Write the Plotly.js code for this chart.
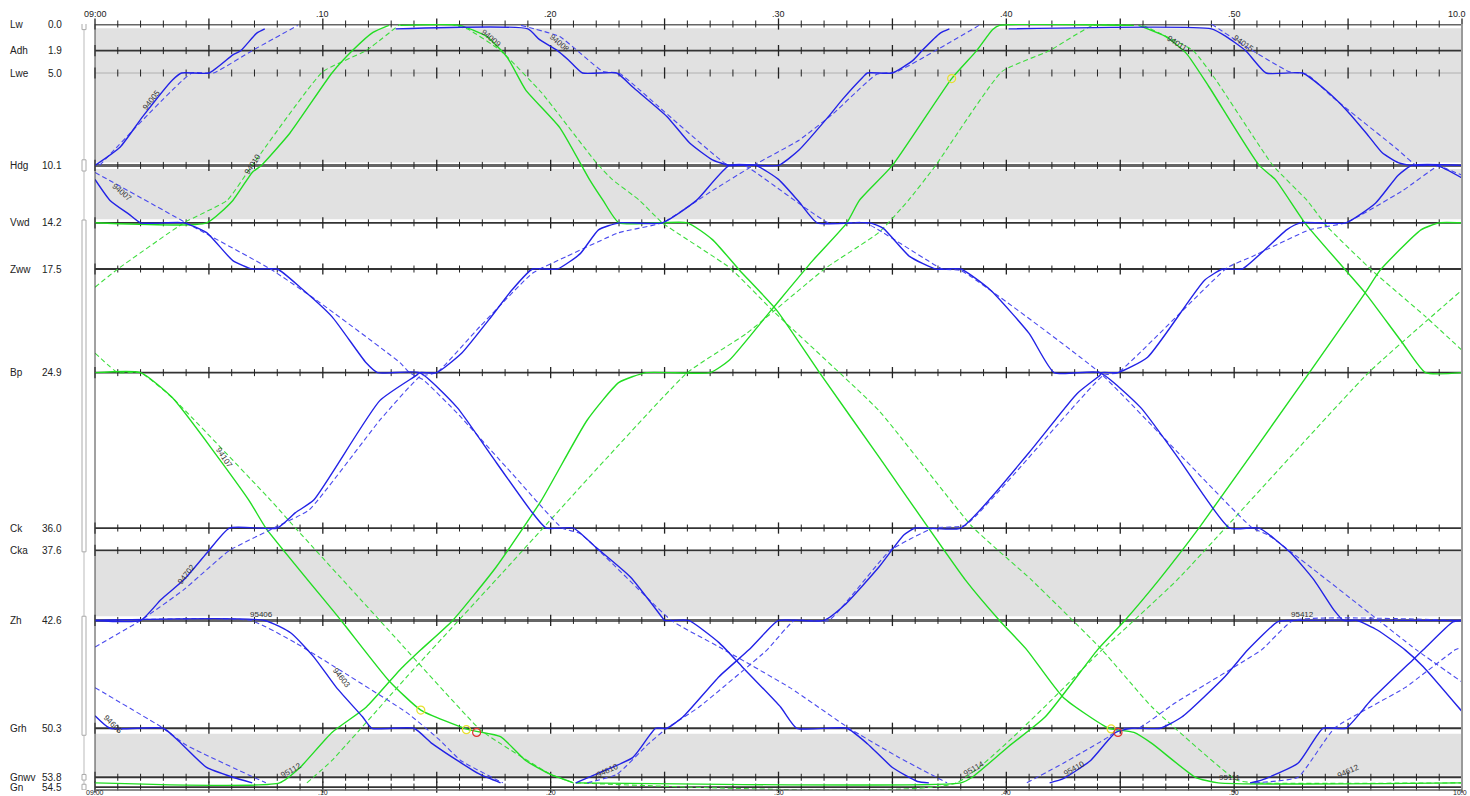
<!DOCTYPE html>
<html><head><meta charset="utf-8">
<script src="https://cdn.plot.ly/plotly-3.0.1.min.js"></script>
<style>html,body{margin:0;padding:0;background:#fff;overflow:hidden}#chart{width:1470px;height:796px}</style>
</head><body><div id="chart"></div>
<script>
// ---------- stations ----------
const stationNames  = ['Lw','Adh','Lwe','Hdg','Vwd','Zww','Bp','Ck','Cka','Zh','Grh','Gnwv','Gn'];
const stationKm     = [0.0, 1.9, 3.5, 10.1, 14.2, 17.5, 24.9, 36.0, 37.6, 42.6, 50.3, 53.8, 54.5];
const stationKmText = ['0.0','1.9','5.0','10.1','14.2','17.5','24.9','36.0','37.6','42.6','50.3','53.8','54.5'];
// single-track (grey) sections, km from / to
const singleFrom = [0.3, 10.35, 37.7, 50.7];
const singleTo   = [9.9, 13.95, 42.3, 53.7];
// time axis (minutes after 09:00)
const timeTickVals = [0, 10, 20, 30, 40, 50, 60];
const timeTickText = ['09:00', '.10', '.20', '.30', '.40', '.50', '10.0'];

// ---------- blue trains: [minute, km]; *_p = planned (dashed) ----------
const b94005  = [[0,10.1],[1.1,8.8],[2.1,6.6],[3.4,4.0],[3.8,3.5],[5.0,3.5],[6.05,2.2],[6.4,1.9],[7.1,0.65],[7.45,0.35]];
const b94005p = [[0.2,10.1],[4.25,3.5],[5.2,3.5],[6.9,1.9],[8.9,0.1]];
const b94007  = [[0,11.1],[0.66,12.6],[1.5,13.6],[2.0,14.2],[3.9,14.2],[4.9,14.9],[6.05,16.9],[6.9,17.5],[8.0,17.5],[9.0,18.8],[10.4,20.9],[11.9,24.2],[12.4,24.9],[14.25,24.9],[15.9,27.4],[17.3,30.6],[19.1,34.7],[19.8,36.0],[21.0,36.0],[22.0,37.4],[23.5,39.5],[24.9,42.4],[25.0,42.6],[26.05,42.6],[27.4,44.2],[28.4,45.9],[30.1,48.8],[30.8,50.3],[33.0,50.3],[33.9,51.4],[35.0,53.1],[36.1,54.1],[36.6,54.2]];
const b94007p = [[0,10.6],[4.0,14.2],[7.7,17.5],[9.7,19.7],[13.4,24.2],[13.8,24.9],[14.4,25.4],[15.9,27.8],[18.3,32.1],[20.5,36.0],[21.3,36.4],[25.3,42.6],[27.4,44.5],[30.5,47.4],[33.1,50.3],[35.3,52.4],[37.4,54.2]];
const b94008  = [[13.2,0.35],[19.0,0.35],[19.5,1.1],[20.3,1.9],[20.8,2.6],[21.4,3.5],[22.9,3.5],[23.6,4.5],[25.1,6.6],[26.1,8.5],[27.1,9.7],[27.85,10.1],[29.0,10.1],[30.0,11.1],[30.9,12.7],[31.7,14.2],[34.0,14.2],[34.6,14.6],[35.75,16.6],[36.9,17.5],[38.0,17.5],[39.3,19.0],[41.0,22.1],[42.1,24.9],[44.1,24.9],[45.9,27.4],[47.5,30.9],[49.8,36.0],[51.1,36.0],[52.5,37.8],[53.5,39.7],[54.4,41.9],[54.8,42.6],[55.4,42.6],[56.3,43.3],[57.5,44.7],[58.3,45.9],[60.0,49.1]];
const b94008p = [[18.7,0.1],[20.4,0.9],[22.3,3.4],[23.0,3.5],[23.9,4.7],[27.8,10.1],[28.5,10.1],[32.2,14.2],[33.8,14.2],[37.2,17.5],[38.0,17.6],[44.1,24.9],[46.7,29.2],[50.8,36.0],[51.5,36.5],[58.0,44.7],[60.0,47.0]];
const b94702  = [[0,42.6],[2.0,42.6],[2.9,41.1],[3.9,39.7],[4.9,37.8],[5.9,36.0],[8.0,36.0],[8.8,34.9],[9.6,34.0],[12.5,26.9],[14.1,25.1],[14.25,24.9],[15.0,24.9],[16.1,23.5],[17.3,21.1],[18.3,19.0],[19.2,17.5],[20.3,17.5],[21.3,16.4],[22.1,14.7],[23.0,14.2],[24.9,14.2],[26.4,12.6],[27.85,10.1],[30.0,10.1],[30.9,9.0],[32.2,6.6],[32.8,5.4],[33.7,3.8],[33.9,3.5],[35.0,3.5],[35.9,2.6],[36.3,1.9],[37.1,0.65],[37.5,0.35]];
const b94702p = [[0,44.5],[2.0,42.6],[3.9,40.4],[5.9,37.6],[7.85,36.0],[9.4,34.7],[12.5,28.3],[14.25,25.2],[15.0,24.9],[16.9,21.6],[19.2,17.8],[20.7,16.6],[23.0,14.9],[24.9,14.2],[27.1,11.9],[28.9,10.1],[30.9,8.3],[32.4,6.4],[34.3,3.6],[35.2,3.4],[36.9,1.9],[38.8,0.1]];
const b95406  = [[0,42.6],[7.45,42.6],[8.6,43.5],[9.6,45.2],[10.6,47.4],[11.75,49.5],[12.15,50.3],[14.0,50.3],[14.8,51.4],[15.9,52.6],[16.9,53.6],[17.8,54.2]];
const b95406p = [[0,42.6],[6.85,42.6],[8.8,44.2],[11.0,46.4],[13.7,49.2],[15.1,51.1],[16.05,52.6],[17.9,54.2]];
const b94605  = [[0,49.4],[0.66,50.3],[3.0,50.3],[3.6,51.1],[4.9,53.1],[6.05,53.8],[6.9,54.2]];
const b94605p = [[0,47.4],[3.0,50.3],[4.0,51.5],[7.5,54.2]];
const b94610  = [[21.1,54.2],[22.1,53.5],[23.6,52.4],[24.3,50.9],[24.6,50.3],[25.1,50.3],[25.8,49.5],[27.4,46.6],[28.7,44.7],[29.4,43.5],[30.0,42.6],[32.0,42.6],[32.9,41.5],[34.4,38.8],[35.5,36.5],[36.0,36.0],[38.0,36.0],[41.0,30.6],[43.1,26.4],[44.1,25.1],[44.2,24.9],[44.9,24.9],[46.2,23.8],[48.7,18.3],[49.5,17.5],[50.35,17.5],[52.3,14.7],[52.9,14.2],[54.9,14.2],[56.2,12.8],[57.2,10.8],[57.8,10.1],[60,10.1]];
const b94610p = [[21.6,54.2],[22.9,53.6],[24.3,51.4],[25.1,50.3],[26.5,48.8],[29.5,44.7],[30.7,42.6],[32.2,42.6],[34.9,37.6],[36.8,36.0],[38.2,35.8],[44.25,25.1],[44.9,24.9],[49.7,17.4],[50.8,16.6],[53.3,14.7],[54.9,14.2],[57.4,11.9],[59.0,10.1],[60,10.1]];
const b95410  = [[41.9,54.2],[42.5,53.9],[43.7,52.6],[44.8,50.6],[45.5,50.3],[46.75,50.3],[47.7,49.5],[49.6,46.6],[50.6,44.7],[51.9,42.7],[52.4,42.6],[60,42.6]];
const b95410p = [[40.9,54.2],[42.5,52.8],[44.5,50.9],[44.95,50.3],[45.8,50.3],[47.4,48.5],[51.2,44.7],[52.6,42.6],[60,42.6]];
const b94612  = [[50.7,54.2],[51.2,54.0],[52.8,52.8],[53.9,50.3],[54.9,50.3],[56.0,48.3],[57.85,45.4],[58.3,44.7],[59.6,42.7],[60,42.6]];
const b94612p = [[50.9,54.2],[52.8,53.8],[54.4,50.3],[57.5,47.4],[59.7,44.7],[60,44.5]];
const b94015  = [[40.1,0.35],[49.0,0.35],[49.65,0.9],[50.5,1.9],[51.4,3.5],[53.0,3.5],[54.0,4.7],[54.9,6.1],[55.8,7.8],[56.5,9.2],[57.2,9.9],[57.8,10.1],[58.9,10.1],[60,11.0]];
const b94015p = [[49.0,0.0],[50.5,1.6],[52.4,3.4],[53.2,3.6],[54.3,5.2],[57.2,9.0],[58.0,10.1],[58.9,10.1],[60,10.8]];

// ---------- green trains ----------
const g94010  = [[0,14.2],[4.9,14.2],[6.05,12.6],[6.9,10.6],[7.3,10.1],[8.55,7.8],[10.4,3.5],[11.3,1.9],[12.2,0.6],[12.9,0.1]];
const g94010p = [[0,18.8],[1.0,17.5],[3.9,14.2],[5.8,12.6],[6.9,10.1],[10.0,3.4],[11.9,1.9],[13.4,0.0]];
const g94009  = [[13.4,0.1],[16.0,0.1],[17.2,0.9],[18.1,2.4],[18.9,4.7],[20.4,7.4],[21.7,11.1],[22.3,12.6],[23.0,14.2],[26.0,14.2],[27.1,15.4],[28.3,17.6],[29.9,20.4],[31.8,24.9],[34.4,30.9],[38.2,39.7],[39.7,42.6],[40.9,44.7],[42.5,48.1],[44.5,50.3],[45.6,50.6],[46.4,51.4],[48.3,53.8],[49.3,54.2],[60,54.2]];
const g94009p = [[15.6,0.0],[16.4,0.4],[17.8,1.9],[19.6,4.9],[22.0,9.9],[22.7,11.1],[23.9,12.6],[24.9,14.2],[27.85,17.4],[29.7,20.4],[34.4,27.6],[38.5,35.9],[41.1,39.7],[44.2,44.7],[46.4,48.8],[50.1,54.0],[50.9,54.2],[60,54.2]];
const g94107  = [[0,24.9],[2.0,24.9],[3.4,26.7],[6.75,34.0],[7.5,36.0],[10.8,42.6],[12.9,46.9],[14.3,49.0],[16.4,50.4],[17.8,50.9],[18.9,52.6],[20.0,53.6],[21.0,54.2]];
const g94107p = [[0,23.5],[1.0,24.9],[2.0,24.9],[3.4,26.7],[7.7,34.0],[8.8,36.0],[12.5,42.6],[16.9,50.4],[17.8,51.4],[20.0,53.6],[21.0,54.2]];
const g95112  = [[0,54.2],[8.1,54.2],[9.0,53.1],[10.4,50.6],[11.9,48.8],[13.4,46.1],[14.3,44.7],[15.7,42.6],[17.6,38.8],[19.6,34.0],[21.6,28.3],[23.0,25.6],[24.2,24.9],[27.0,24.9],[27.85,24.0],[29.7,20.4],[31.5,16.9],[33.0,14.2],[33.55,12.6],[35.0,10.1],[37.6,3.9],[38.7,1.9],[39.4,0.4],[39.7,0.1],[45.6,0.1]];
const g95112p = [[9.3,54.2],[10.4,52.6],[13.7,46.6],[17.6,39.7],[26.0,24.9],[28.6,22.1],[32.1,17.4],[34.4,14.9],[35.7,12.6],[36.9,10.1],[39.8,3.4],[41.9,1.9],[43.8,0.1],[45.6,0.1]];
const g94011  = [[45.8,0.1],[47.0,0.9],[47.9,2.1],[48.9,4.5],[51.1,10.1],[51.8,11.1],[53.1,14.2],[54.9,17.6],[55.75,19.2],[57.4,22.8],[58.4,24.9],[60,24.9]];
const g94011p = [[46.0,0.1],[48.2,1.9],[49.2,4.0],[51.7,10.1],[53.2,12.6],[54.1,14.5],[56.05,17.6],[58.4,20.9],[60,23.3]];
const g95114  = [[21.1,54.2],[38.0,54.2],[38.5,53.8],[40.1,51.6],[41.7,49.5],[44.0,44.7],[45.2,42.6],[46.7,39.7],[48.5,35.9],[53.3,24.9],[55.75,19.2],[56.4,17.6],[58.2,14.7],[59.0,14.2],[60,14.2]];
const g95114p = [[21.1,54.2],[37.8,54.2],[44.2,44.7],[47.5,39.7],[55.9,24.9],[60,19.0]];

// ---------- event circles [minute, km] ----------
const yellowEvents = [[14.3,49.0],[16.3,50.4],[37.6,3.9],[44.6,50.35]];
const redEvents    = [[16.75,50.6],[44.9,50.6]];

// ---------- train number labels [text, minute, km, angle] ----------
const trainLabels = [
  ['94005', 2.5, 5.4, -52], ['94007', 1.2, 12.0, 40], ['94010', 6.9, 10.0, -56],
  ['94009', 17.4, 1.0, 40], ['94008', 20.4, 1.4, 40], ['94011', 47.5, 1.4, 32],
  ['94015', 50.4, 1.4, 35], ['94107', 5.7, 31.0, 56], ['94702', 4.0, 39.3, -52],
  ['95406', 7.3, 42.15, 0], ['94603', 10.8, 46.7, 52], ['94605', 0.8, 50.0, 45],
  ['95112', 8.6, 53.3, -30], ['94610', 22.5, 53.3, -25], ['95114', 38.6, 53.2, -30],
  ['95410', 43.0, 53.2, -30], ['95111', 49.8, 53.85, 0], ['94612', 55.0, 53.4, -25],
  ['95412', 53.0, 42.15, 0]
];

const blueTrains  = [[b94005,b94005p],[b94007,b94007p],[b94008,b94008p],[b94702,b94702p],[b95406,b95406p],[b94605,b94605p],[b94610,b94610p],[b95410,b95410p],[b94612,b94612p],[b94015,b94015p]];
const greenTrains = [[g94010,g94010p],[g94009,g94009p],[g94107,g94107p],[g95112,g95112p],[g94011,g94011p],[g95114,g95114p]];

// ---------- build ----------
const traces = [];
const minX = [], minY = [], majX = [], majY = [];
stationKm.forEach(k => {
  for (let m = 0; m <= 60; m++) {
    if (m % 5 === 0) { majX.push(m); majY.push(k); } else { minX.push(m); minY.push(k); }
  }
});
traces.push({x:minX, y:minY, mode:'markers', type:'scatter', cliponaxis:false, hoverinfo:'skip',
  marker:{symbol:'line-ns', size:5, line:{color:'#222', width:1}}});
traces.push({x:majX, y:majY, mode:'markers', type:'scatter', cliponaxis:false, hoverinfo:'skip',
  marker:{symbol:'line-ns', size:8, line:{color:'#222', width:1.3}}});

function addTrain(pair, solidColor, dashColor) {
  const [act, plan] = pair;
  traces.push({x:plan.map(p=>p[0]), y:plan.map(p=>p[1]), mode:'lines', type:'scatter', hoverinfo:'skip',
    line:{color:dashColor, width:1.1, dash:'5px,3px', shape:'spline', smoothing:0.4}});
  traces.push({x:act.map(p=>p[0]), y:act.map(p=>p[1]), mode:'lines', type:'scatter', hoverinfo:'skip',
    line:{color:solidColor, width:1.4, shape:'spline', smoothing:0.5}});
}
greenTrains.forEach(p => addTrain(p, '#22dd22', '#3ddd3d'));
blueTrains.forEach(p => addTrain(p, '#2222e6', '#4a4aee'));

traces.push({x:yellowEvents.map(p=>p[0]), y:yellowEvents.map(p=>p[1]), mode:'markers', type:'scatter', hoverinfo:'skip',
  marker:{symbol:'circle-open', size:8, color:'#e8e030', line:{width:1.2}}});
traces.push({x:redEvents.map(p=>p[0]), y:redEvents.map(p=>p[1]), mode:'markers', type:'scatter', hoverinfo:'skip',
  marker:{symbol:'circle-open', size:8, color:'#e03030', line:{width:1.2}}});

const shapes = [];
singleFrom.forEach((f, i) => shapes.push({type:'rect', xref:'paper', yref:'y', x0:0, x1:1, y0:f, y1:singleTo[i],
  fillcolor:'#e1e1e1', line:{width:0}, layer:'below'}));
const thick = {'Lw':1,'Hdg':1,'Zh':1};
stationNames.forEach((n, i) => {
  let col = '#333', w = 1.8;
  if (n === 'Lwe') { col = '#b0b0b0'; w = 1; }
  else if (thick[n]) { col = '#666'; w = 3; }
  shapes.push({type:'line', xref:'paper', yref:'y', x0:0, x1:1, y0:stationKm[i], y1:stationKm[i], line:{color:col, width:w}, layer:'below'});
});
shapes.push({type:'line', xref:'paper', yref:'paper', x0:0, x1:0, y0:0, y1:1, line:{color:'#444', width:1}});
shapes.push({type:'line', xref:'paper', yref:'paper', x0:1, x1:1, y0:0, y1:1, line:{color:'#999', width:2}});
shapes.push({type:'line', xref:'paper', yref:'paper', x0:0, x1:1, y0:0, y1:0, line:{color:'#666', width:1.5}});
const px = v => (v - 95) / 1368;
shapes.push({type:'line', xref:'paper', yref:'y', x0:px(84), x1:px(84), y0:0, y1:54.5, line:{color:'#bbb', width:1}});
[[ -0.2, 0.4],[9.7,10.5],[14.0,37.7],[42.3,50.8],[53.6,54.0],[54.3,54.7]].forEach(r => {
  shapes.push({type:'rect', xref:'paper', yref:'y', x0:px(82), x1:px(86), y0:r[0], y1:r[1],
    line:{color:'#aaa', width:1}, fillcolor:'#fff'});
});

const annotations = [];
const lblFont = {family:'Liberation Sans, Arial, sans-serif', size:10, color:'#222'};
stationNames.forEach((n, i) => {
  annotations.push({xref:'paper', yref:'y', x:px(8), y:stationKm[i], text:n, showarrow:false, xanchor:'left', yanchor:'middle', font:lblFont});
  annotations.push({xref:'paper', yref:'y', x:px(64), y:stationKm[i], text:stationKmText[i], showarrow:false, xanchor:'right', yanchor:'middle', font:lblFont});
});
trainLabels.forEach(l => annotations.push({xref:'x', yref:'y', x:l[1], y:l[2], text:l[0], textangle:l[3], showarrow:false,
  font:{family:'Liberation Sans, Arial, sans-serif', size:8, color:'#333'}}));
// time labels, top and bottom
const axFont = {family:'Liberation Sans, Arial, sans-serif', size:9, color:'#222'};
timeTickVals.forEach((v, i) => {
  const last = i === timeTickVals.length - 1;
  annotations.push({xref: last ? 'paper' : 'x', yref:'paper', x: last ? px(1469) : v, y:1, yanchor:'bottom', yshift:3,
    xanchor: last ? 'right' : 'center', text:timeTickText[i], showarrow:false, font:axFont});
  annotations.push({xref: last ? 'paper' : 'x', yref:'paper', x: last ? px(1469) : v, y:0, yanchor:'bottom', yshift:-7,
    xanchor: last ? 'right' : 'center', text:timeTickText[i], showarrow:false, font:{...axFont, size:7}, borderpad:0});
});

const layout = {
  width:1470, height:796, margin:{l:95, r:8, t:24, b:6},
  paper_bgcolor:'#fff', plot_bgcolor:'#fff', showlegend:false, hovermode:false,
  xaxis:{range:[0,60], showticklabels:false, ticks:'', showgrid:false, zeroline:false, showline:false, fixedrange:true},
  yaxis:{range:[54.71, 0], showticklabels:false, ticks:'', showgrid:false, zeroline:false, showline:false, fixedrange:true},
  shapes:shapes, annotations:annotations
};
Plotly.newPlot('chart', traces, layout, {staticPlot:true, displayModeBar:false});
</script></body></html>
